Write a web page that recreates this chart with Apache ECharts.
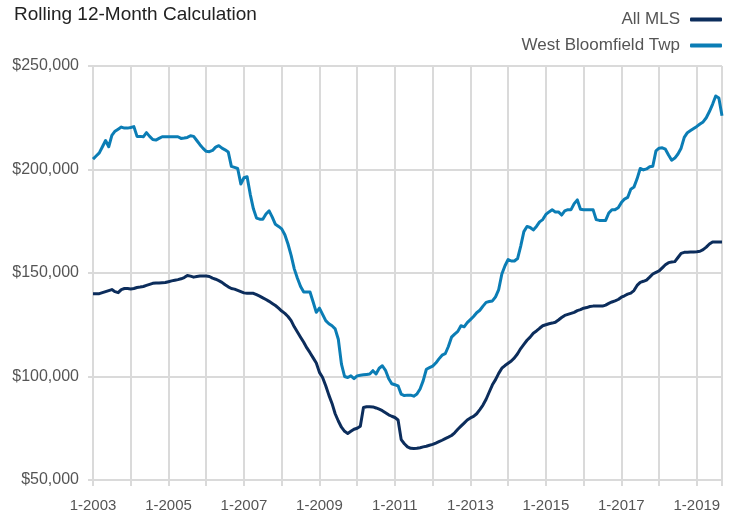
<!DOCTYPE html>
<html>
<head>
<meta charset="utf-8">
<script src="https://cdn.jsdelivr.net/npm/echarts@6/dist/echarts.min.js"></script>
<style>html,body{margin:0;padding:0;background:#fff}#c{width:738px;height:515px}</style>
</head>
<body>
<div id="c"></div>
<script>
// Monthly data, Jan 2003 .. Sep 2019 (values in $ thousands)
const startYear = 2003;
const monthCount = 201;
const yTicks = [50000, 100000, 150000, 200000, 250000];
const seriesNames = ['All MLS', 'West Bloomfield Twp'];

const allMLS = [
  140,140,140,140.5,141,141.5,142,141,140.5,142,142.5,142.5,
  142.3,142.5,143,143.2,143.5,144,144.5,145,145.2,145.2,145.3,145.4,
  145.8,146.2,146.5,146.8,147.2,147.8,148.8,148.5,148,148.3,148.5,148.5,
  148.5,148.3,147.5,147,146.3,145.5,144.3,143.3,142.5,142.2,141.6,141,
  140.4,140.2,140.2,140.2,139.5,138.8,138,137.2,136.3,135.3,134.3,133,
  131.6,130.5,129,127,124,121.5,119,116.5,113.8,111.5,109,106.5,
  102,99.5,95.5,91,87,82,78.5,75.5,73.5,72.5,73.5,74.5,
  75,76,85,85.4,85.4,85.3,84.8,84.2,83.5,82.5,81.5,80.8,
  80.2,79,69.5,67.5,66,65.3,65.2,65.3,65.6,66,66.3,66.8,
  67.2,67.8,68.5,69.2,70,70.7,71.5,72.8,74.5,76,77.5,79,
  80,80.7,82,84,86.2,89,92.5,96,98.5,101.5,104,105.3,
  106.4,107.5,109,111,113.5,115.5,117.5,119,120.9,122,123.3,124.5,
  125,125.5,125.8,126.2,127.3,128.5,129.5,130,130.5,131,131.8,132.3,
  133,133.3,133.8,134,134,134,134,134.5,135.3,136,136.5,137.2,
  138.3,139,139.8,140.3,141.5,144,145.5,146,146.6,148,149.5,150.3,
  151,152.5,154,155,155.3,155.5,157.5,159.5,160,160,160.1,160.2,
  160.3,160.5,161.3,162.5,164,165,165,165,165
];

const westBloomfield = [
  205,206.5,208,211,214,211,216.5,218.5,219.5,220.5,220,220,
  220.3,220.7,216,216,215.8,217.8,216,214.5,214.2,215,215.8,215.8,
  215.8,215.8,215.8,215.8,215,215.2,215.5,216.3,216,214,212,210.2,
  208.8,208.6,209.2,210.8,211.5,210.3,209.5,208.5,201.5,201,200.5,193,
  196,196.5,188,181,176.5,176,176,178.5,180,177,173.5,172.5,
  171.3,168.5,164,158.5,152,147.5,143.5,140.8,140.8,140.8,136,131,
  133,130,127,125.5,124.5,123,118,106,100,99.5,100.3,99,
  100.3,100.6,100.8,101,101.2,102.8,101.2,104,105.2,103,99,96.5,
  96,95.5,91.5,90.8,91,91,90.5,91.5,94,98,103.5,104.3,
  105,106.5,108.5,110.3,111,114.5,119,120.5,121.8,124.5,124,126,
  127.5,129,130.8,132,134,135.8,136.2,136.5,138.5,142,149.5,153.5,
  156.5,155.8,155.8,157,163,170,172.5,172,170.8,172.5,174.7,175.8,
  178.3,179.5,180.5,179.5,179.5,178,180,180.6,180.6,183.5,185.3,180.8,
  180.6,180.6,180.6,180.6,175.8,175.4,175.4,175.4,179,180.6,180.6,181.5,
  184,185.7,186.5,190.5,191.5,195.5,200.5,199.8,200.3,201.3,201.6,209,
  210.3,210.5,209.8,207,204.5,205.5,207.5,210.3,215.5,217.8,218.8,219.8,
  220.8,222,223,225,228,231.5,235.5,234.5,226
];

const categories = [];
for (let i = 0; i < monthCount; i++) {
  const y = startYear + Math.floor(i / 12);
  const m = (i % 12) + 1;
  categories.push(m + '-' + y);
}

const chart = echarts.init(document.getElementById('c'), null, {renderer: 'canvas'});
const gridColor = '#dadada';
const isYear = (idx) => idx % 12 === 0 || idx === monthCount - 1;
chart.setOption({
  animation: false,
  backgroundColor: '#fff',
  title: {
    text: 'Rolling 12-Month Calculation',
    left: 9, top: 0,
    textStyle: {fontFamily: 'Liberation Sans', fontSize: 19, fontWeight: 'normal', color: '#222'}
  },
  legend: {
    orient: 'vertical', right: 16, top: 11, align: 'right', padding: 0,
    itemWidth: 32, itemHeight: 4, itemGap: 9,
    icon: 'roundRect',
    textStyle: {fontFamily: 'Liberation Sans', fontSize: 17, color: '#555', padding: [0, 5, 0, 0]},
    data: seriesNames
  },
  grid: {left: 93, right: 16, top: 66, bottom: 35, containLabel: false},
  xAxis: {
    type: 'category', data: categories, boundaryGap: false,
    axisLine: {show: true, lineStyle: {color: gridColor, width: 2}},
    axisTick: {show: true, length: 6, interval: (i) => isYear(i), lineStyle: {color: gridColor, width: 2}},
    splitLine: {show: true, interval: (i) => isYear(i), lineStyle: {color: gridColor, width: 2}},
    axisLabel: {
      interval: (i) => i % 24 === 0,
      margin: 18,
      fontFamily: 'Liberation Sans', fontSize: 15, color: '#555'
    }
  },
  yAxis: {
    type: 'value', min: yTicks[0], max: yTicks[yTicks.length - 1], interval: 50000,
    axisLine: {show: false},
    axisTick: {show: true, length: 5, lineStyle: {color: gridColor, width: 2}},
    splitLine: {show: true, lineStyle: {color: gridColor, width: 2}},
    axisLabel: {
      margin: 14,
      fontFamily: 'Liberation Sans', fontSize: 16, color: '#555',
      formatter: (v) => '$' + v.toLocaleString('en-US')
    }
  },
  series: [
    {
      name: seriesNames[0], type: 'line', data: allMLS.map(v => v * 1000),
      showSymbol: false, symbol: 'none', color: '#0c2d5c',
      lineStyle: {width: 3, color: '#0c2d5c', join: 'round'}
    },
    {
      name: seriesNames[1], type: 'line', data: westBloomfield.map(v => v * 1000),
      showSymbol: false, symbol: 'none', color: '#0b7db5',
      lineStyle: {width: 3, color: '#0b7db5', join: 'round'}
    }
  ]
});
</script>
</body>
</html>
